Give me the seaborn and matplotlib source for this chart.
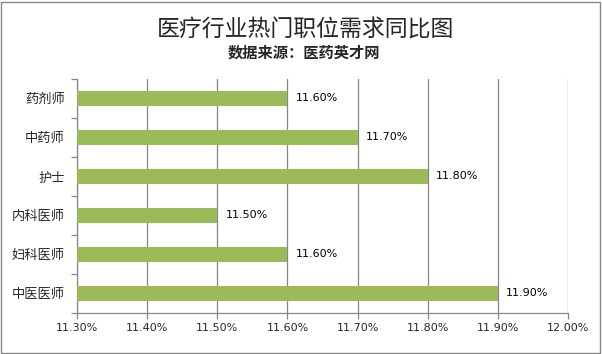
import pandas as pd
import seaborn as sns
import matplotlib.pyplot as plt
from matplotlib.patches import Rectangle
from matplotlib.ticker import FuncFormatter

categories = ["药剂师", "中药师", "护士", "内科医师", "妇科医师", "中医医师"]
values = [11.6, 11.7, 11.8, 11.5, 11.6, 11.9]
x_ticks = [11.3, 11.4, 11.5, 11.6, 11.7, 11.8, 11.9, 12.0]

df = pd.DataFrame({"job": categories, "pct": values})

sns.set_style("white")
plt.rcParams['font.family'] = ['Noto Sans CJK SC', 'DejaVu Sans']

fig = plt.figure(figsize=(6.02, 3.54), dpi=100)
ax = fig.add_axes([0.128, 0.116, 0.8155, 0.661])

sns.barplot(data=df, x="pct", y="job", orient="h", color="#9BBB59",
            saturation=1, width=0.4, linewidth=0, ax=ax, zorder=3)

ax.set_xlim(11.3, 12.0)
ax.set_xticks(x_ticks)
ax.xaxis.set_major_formatter(FuncFormatter(lambda v, p: "%.2f%%" % v))
ax.set_xlabel("")
ax.set_ylabel("")
ax.grid(axis="x", color="#868686", linewidth=0.9, zorder=0)
ax.set_axisbelow(True)

for s in ["top", "right"]:
    ax.spines[s].set_visible(False)
for s in ["left", "bottom"]:
    ax.spines[s].set_color("#868686")
    ax.spines[s].set_linewidth(0.9)

# tick marks between categories on the y axis
ax.set_yticks(range(len(categories)))
ax.set_yticklabels(categories, fontsize=9.5)
ax.tick_params(axis="y", which="major", left=True, length=0, pad=9)
ax.set_yticks([i + 0.5 for i in range(-1, len(categories))], minor=True)
ax.tick_params(axis="y", which="minor", left=True, length=4, color="#868686", width=0.9)
ax.tick_params(axis="x", bottom=True, length=4, color="#868686", width=0.9,
               labelsize=8, pad=3)
for lbl in ax.get_xticklabels():
    lbl.set_family("DejaVu Sans")
ax.set_ylim(len(categories) - 0.5, -0.5)

for i, v in enumerate(values):
    ax.text(v + 0.012, i, "%.2f%%" % v, va="center", ha="left",
            fontsize=8, family="DejaVu Sans", color="black")

fig.text(0.507, 0.915, "医疗行业热门职位需求同比图", ha="center", va="center",
         fontsize=16.5)
fig.text(0.505, 0.851, "数据来源：医药英才网", ha="center", va="center",
         fontsize=11, fontweight="bold")

fig.patches.append(Rectangle((0.002, 0.003), 0.995, 0.992, transform=fig.transFigure,
                             fill=False, edgecolor="#868686", linewidth=1))

fig.savefig("out.png", dpi=100)
